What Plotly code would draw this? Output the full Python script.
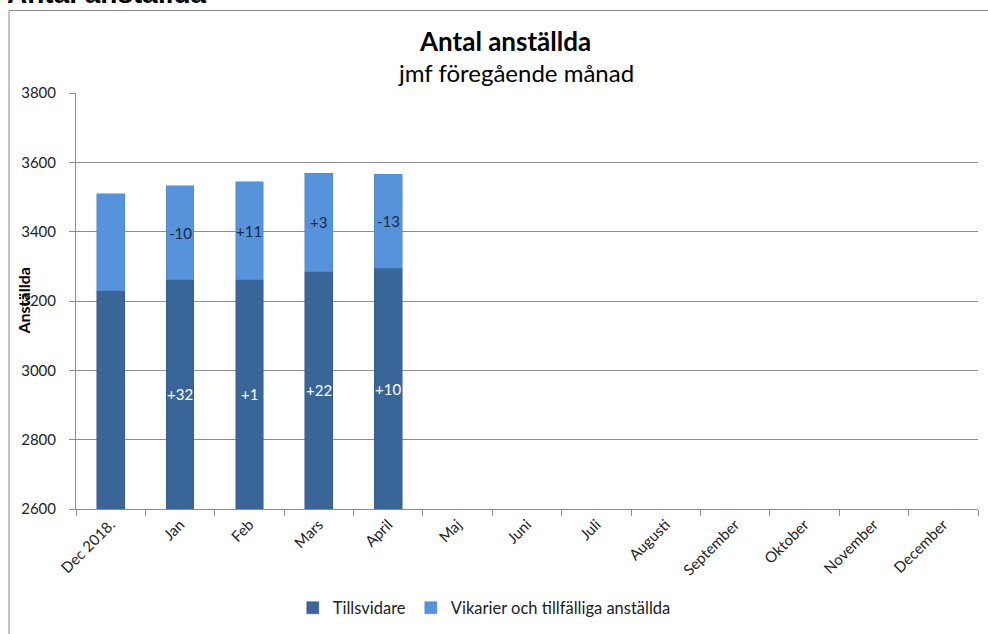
import plotly.graph_objects as go

# Months on the category axis
months = ["Dec 2018.", "Jan", "Feb", "Mars", "April", "Maj", "Juni", "Juli",
          "Augusti", "September", "Oktober", "November", "December"]

# Headcount per month (only Dec 2018 to April reported so far)
tillsvidare = [3229, 3261, 3262, 3284, 3294]
vikarier = [281, 271, 282, 285, 272]

n_pad = len(months) - len(tillsvidare)
perm_vals = tillsvidare + [None] * n_pad
temp_vals = vikarier + [None] * n_pad

Y_MIN, Y_MAX = 2600, 3800

DARK = "#3A6598"
LIGHT = "#5793DA"
GRID = "#8C8C8C"
FONT = "Lato"

W, H = 988, 634
L, R, T, B = 75.5, 10, 93, 125
PW, PH = W - L - R, H - T - B


def px_x(x):
    return (x - L) / PW


def px_y(y):
    return (H - B - y) / PH


fig = go.Figure()
fig.add_trace(go.Bar(
    x=months, y=perm_vals, name="Tillsvidare",
    marker=dict(color=DARK, line=dict(color="#2E5380", width=0.5)),
))
fig.add_trace(go.Bar(
    x=months, y=temp_vals, name="Vikarier och tillfälliga anställda",
    marker=dict(color=LIGHT, line=dict(color="#4A80C2", width=0.5)),
))

# Month-on-month change labels inside each segment
for i in range(1, len(tillsvidare)):
    perm = tillsvidare[i]
    temp = vikarier[i]
    d_perm = perm - tillsvidare[i - 1]
    d_temp = temp - vikarier[i - 1]
    fig.add_annotation(x=months[i], y=(Y_MIN + perm) / 2, text=f"{d_perm:+d}",
                       showarrow=False, xanchor="center", yanchor="middle",
                       font=dict(color="white", size=15, family=FONT))
    fig.add_annotation(x=months[i], y=perm + temp / 2, text=f"{d_temp:+d}",
                       showarrow=False, xanchor="center", yanchor="middle",
                       font=dict(color="#1B2A45", size=15, family=FONT))

fig.update_layout(
    width=W, height=H,
    margin=dict(l=L, r=R, t=T, b=B, autoexpand=False),
    paper_bgcolor="white", plot_bgcolor="white",
    barmode="stack", bargap=0.6,
    font=dict(family=FONT, size=14, color="#222222"),
    showlegend=True,
    legend=dict(orientation="h", x=px_x(484), y=px_y(608),
                xanchor="center", yanchor="middle",
                font=dict(size=16.5, family=FONT, color="#222222"),
                itemwidth=30, traceorder="normal"),
    xaxis=dict(
        type="category", categoryorder="array", categoryarray=months,
        range=[-0.5, len(months) - 0.5],
        tickangle=-45, tickson="boundaries", ticks="outside", ticklen=6,
        tickcolor=GRID, showline=True, linecolor=GRID, linewidth=1,
        showgrid=False, tickfont=dict(size=15, family=FONT, color="#222222"),
    ),
    yaxis=dict(
        range=[Y_MIN, Y_MAX], dtick=200, tick0=Y_MIN,
        showgrid=True, gridcolor=GRID, gridwidth=1,
        showline=True, linecolor=GRID, linewidth=1,
        ticks="outside", ticklen=6, tickcolor=GRID,
        ticklabelstandoff=10,
        tickfont=dict(size=15, family=FONT, color="#222222"),
        zeroline=False,
    ),
)

# Chart frame
fig.add_shape(type="rect", xref="paper", yref="paper",
              x0=px_x(8.5), x1=px_x(995), y0=px_y(10.5), y1=px_y(645),
              line=dict(color="#8A8A8A", width=1), fillcolor="rgba(0,0,0,0)",
              layer="below")

# Page heading above the frame
fig.add_annotation(xref="paper", yref="paper", x=px_x(4), y=px_y(11),
                   xanchor="left", yanchor="bottom", showarrow=False,
                   text="<b>Antal anställda</b>",
                   font=dict(family="Liberation Sans", size=28, color="black"))

# Chart titles
fig.add_annotation(xref="paper", yref="paper", x=px_x(505), y=px_y(41),
                   xanchor="center", yanchor="middle", showarrow=False,
                   text="<b>Antal anställda</b>",
                   font=dict(family=FONT, size=26, color="black"))
fig.add_annotation(xref="paper", yref="paper", x=px_x(516), y=px_y(72),
                   xanchor="center", yanchor="middle", showarrow=False,
                   text="jmf föregående månad",
                   font=dict(family=FONT, size=24, color="black"))

# Y axis title
fig.add_annotation(xref="paper", yref="paper", x=px_x(22), y=px_y(301),
                   xanchor="center", yanchor="middle", showarrow=False,
                   textangle=-90, text="<b>Anställda</b>",
                   font=dict(family=FONT, size=16, color="black"))

fig.write_html("out.html")
